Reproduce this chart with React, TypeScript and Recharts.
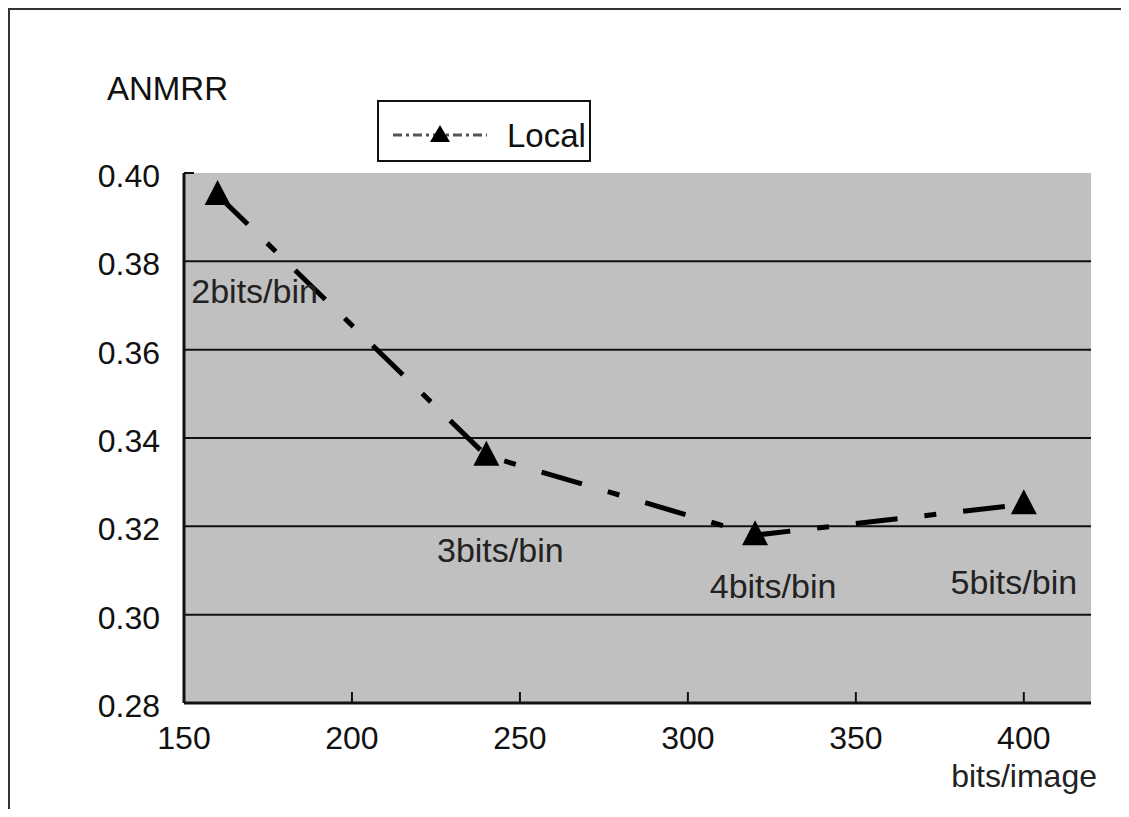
import React from 'react';
import {
  LineChart,
  Line,
  XAxis,
  YAxis,
  ReferenceArea,
  ReferenceLine,
  LabelList,
  Label,
} from 'recharts';

// bits per image for each quantisation level
const bitsPerImage = [160, 240, 320, 400];
const anmrr = [0.395, 0.336, 0.318, 0.325];
const binLabels = ['2bits/bin', '3bits/bin', '4bits/bin', '5bits/bin'];

const xTicks = [150, 200, 250, 300, 350, 400];
const yTicks = [0.28, 0.3, 0.32, 0.34, 0.36, 0.38, 0.4];
const gridLines = [0.3, 0.32, 0.34, 0.36, 0.38];

const data = bitsPerImage.map((bits, i) => ({
  bits,
  local: anmrr[i],
  label: binLabels[i],
}));

const FONT = '"Liberation Sans", Arial, sans-serif';
// where each "Nbits/bin" note sits relative to its point
const labelOffsets = [
  { dx: 37, dy: 108 },
  { dx: 14, dy: 106 },
  { dx: 18, dy: 63 },
  { dx: -10, dy: 90 },
];

const Triangle = (props: any) => {
  const { cx, cy, index } = props;
  if (cx == null || cy == null) return null;
  return (
    <polygon
      key={`tri-${index}`}
      points={`${cx},${cy - 15} ${cx - 13},${cy + 10} ${cx + 13},${cy + 10}`}
      fill="#000"
    />
  );
};

const YTick = (props: any) => {
  const { x, y, payload } = props;
  return (
    <g>
      {payload.value === 0.4 && (
        <line x1={x} y1={y} x2={x + 10} y2={y} stroke="#111" strokeWidth={2} />
      )}
      <text x={x - 24} y={y} dy={14} textAnchor="end" fontSize={32} fontFamily={FONT} fill="#111">
        {payload.value.toFixed(2)}
      </text>
    </g>
  );
};

const XTick = (props: any) => {
  const { x, y, payload } = props;
  return (
    <g>
      {payload.value !== 150 && (
        <line x1={x} y1={y} x2={x} y2={y - 11} stroke="#111" strokeWidth={2} />
      )}
      <text x={x} y={y} dy={46} textAnchor="middle" fontSize={32} fontFamily={FONT} fill="#111">
        {payload.value}
      </text>
    </g>
  );
};

const BinLabel = (props: any) => {
  const { x, y, index, value } = props;
  const off = labelOffsets[index] || { dx: 0, dy: 0 };
  return (
    <text
      x={x + off.dx}
      y={y + off.dy}
      textAnchor="middle"
      fontSize={34}
      fontFamily={FONT}
      fill="#222"
    >
      {value}
    </text>
  );
};

const App = () => {
  return (
    <div style={{ position: 'relative', width: 1113, height: 801 }}>
      <div
        style={{
          position: 'absolute',
          left: -1,
          top: -1,
          width: 1114,
          height: 802,
          borderTop: '3px solid #333',
          borderLeft: '3px solid #333',
          boxSizing: 'border-box',
          pointerEvents: 'none',
        }}
      />
      <LineChart
        width={1113}
        height={801}
        data={data}
        margin={{ top: 165, right: 30, left: 0, bottom: 46 }}
      >
        <ReferenceArea x1={150} x2={420} y1={0.28} y2={0.4} fill="#c0c0c0" fillOpacity={1} stroke="none" />
        {gridLines.map((v) => (
          <ReferenceLine key={v} y={v} stroke="#111" strokeWidth={2} />
        ))}
        <XAxis
          dataKey="bits"
          type="number"
          domain={[150, 420]}
          ticks={xTicks}
          allowDataOverflow
          height={60}
          tickSize={0}
          tickMargin={0}
          tickLine={false}
          axisLine={{ stroke: '#111', strokeWidth: 3 }}
          tick={<XTick />}
        >
          <Label
            content={(p: any) => {
              const vb = p.viewBox;
              return (
                <text
                  x={vb.x + vb.width + 6}
                  y={vb.y + 84}
                  textAnchor="end"
                  fontSize={32}
                  fontFamily={FONT}
                  fill="#222"
                >
                  bits/image
                </text>
              );
            }}
          />
        </XAxis>
        <YAxis
          type="number"
          domain={[0.28, 0.4]}
          ticks={yTicks}
          width={176}
          tickSize={0}
          tickMargin={0}
          tickLine={false}
          axisLine={{ stroke: '#111', strokeWidth: 3 }}
          tick={<YTick />}
        >
          <Label
            content={(p: any) => {
              const vb = p.viewBox;
              return (
                <text x={vb.x + 99} y={vb.y - 73} fontSize={33} fontFamily={FONT} fill="#111">
                  ANMRR
                </text>
              );
            }}
          />
        </YAxis>
        <Line
          type="linear"
          dataKey="local"
          name="Local"
          stroke="#000"
          strokeWidth={5}
          strokeDasharray="42 27 12 27"
          dot={<Triangle />}
          activeDot={false}
          isAnimationActive={false}
        >
          <LabelList dataKey="label" content={<BinLabel />} />
        </Line>
      </LineChart>
      {/* legend box */}
      <div
        style={{
          position: 'absolute',
          left: 369,
          top: 92,
          width: 214,
          height: 62,
          border: '2px solid #111',
          boxSizing: 'border-box',
          background: '#fff',
        }}
      >
        <svg width={210} height={58} style={{ position: 'absolute', left: 0, top: 0 }}>
          <line x1={14} y1={33} x2={108} y2={33} stroke="#555" strokeWidth={3} strokeDasharray="9 4 3 4" />
          <polygon points="61,23 51,40 71,40" fill="#000" />
          <text x={128} y={45} fontSize={33} fontFamily={FONT} fill="#111">
            Local
          </text>
        </svg>
      </div>
    </div>
  );
};

export default App;
